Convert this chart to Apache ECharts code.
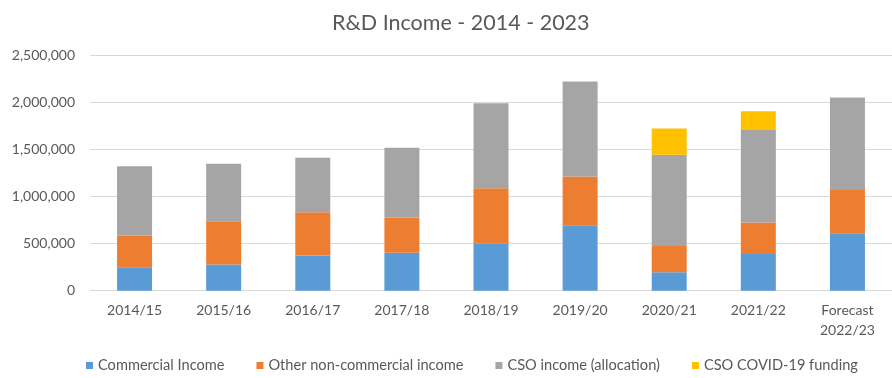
<!DOCTYPE html>
<html>
<head>
<meta charset="utf-8">
<title>R&amp;D Income - 2014 - 2023</title>
<script src="https://cdn.jsdelivr.net/npm/echarts@6/dist/echarts.min.js"></script>
<style>
  html, body { margin: 0; padding: 0; background: #ffffff; }
  #chart { width: 892px; height: 378px; }
</style>
</head>
<body>
<div id="chart"></div>
<script>
// Financial years shown on the category axis
const years = ['2014/15', '2015/16', '2016/17', '2017/18', '2018/19', '2019/20', '2020/21', '2021/22', 'Forecast\n2022/23'];

// Income streams (stacked per year)
const commercialIncome = [250000, 280000, 375000, 405000, 500000, 695000, 195000, 390000, 610000];
const otherNonCommercial = [335000, 460000, 460000, 375000, 590000, 520000, 280000, 335000, 460000];
const csoAllocation = [740000, 610000, 580000, 740000, 905000, 1010000, 970000, 985000, 985000];
const csoCovidFunding = [null, null, null, null, null, null, 280000, 200000, null];

// Value axis ticks
const yTicks = [0, 500000, 1000000, 1500000, 2000000, 2500000];

const FONT = 'Lato, "Liberation Sans", sans-serif';
const TEXT = '#595959';

const chart = echarts.init(document.getElementById('chart'), null, { renderer: 'canvas' });

function bar(name, data, color) {
  return {
    name: name,
    type: 'bar',
    stack: 'income',
    barWidth: 35,
    data: data,
    itemStyle: { color: color },
    emphasis: { disabled: true }
  };
}

chart.setOption({
  animation: false,
  backgroundColor: '#ffffff',
  title: {
    text: 'R&D Income - 2014 - 2023',
    left: 327,
    top: 7,
    textStyle: { fontFamily: FONT, fontSize: 21.5, fontWeight: 'normal', color: TEXT }
  },
  legend: {
    left: 81,
    top: 353,
    icon: 'rect',
    itemWidth: 7,
    itemHeight: 7,
    itemGap: 32,
    textStyle: { fontFamily: FONT, fontSize: 14.6, color: TEXT },
    data: ['Commercial Income', 'Other non-commercial income', 'CSO income (allocation)', 'CSO COVID-19 funding']
  },
  grid: {
    left: 90,
    top: 55.7,
    width: 808,
    height: 235,
    containLabel: false
  },
  xAxis: {
    type: 'category',
    data: years,
    axisLine: { lineStyle: { color: '#D9D9D9', width: 1 } },
    axisTick: { show: false },
    axisLabel: {
      fontFamily: FONT,
      fontSize: 14,
      color: TEXT,
      margin: 10,
      lineHeight: 20,
      interval: 0
    }
  },
  yAxis: {
    type: 'value',
    min: yTicks[0],
    max: yTicks[yTicks.length - 1],
    interval: yTicks[1] - yTicks[0],
    axisLine: { show: false },
    axisTick: { show: false },
    splitLine: { lineStyle: { color: '#D9D9D9', width: 1 } },
    axisLabel: {
      fontFamily: FONT,
      fontSize: 14,
      color: TEXT,
      margin: 15,
      formatter: v => v.toLocaleString('en-US')
    }
  },
  series: [
    bar('Commercial Income', commercialIncome, '#5B9BD5'),
    bar('Other non-commercial income', otherNonCommercial, '#ED7D31'),
    bar('CSO income (allocation)', csoAllocation, '#A5A5A5'),
    bar('CSO COVID-19 funding', csoCovidFunding, '#FFC000')
  ]
});
</script>
</body>
</html>
